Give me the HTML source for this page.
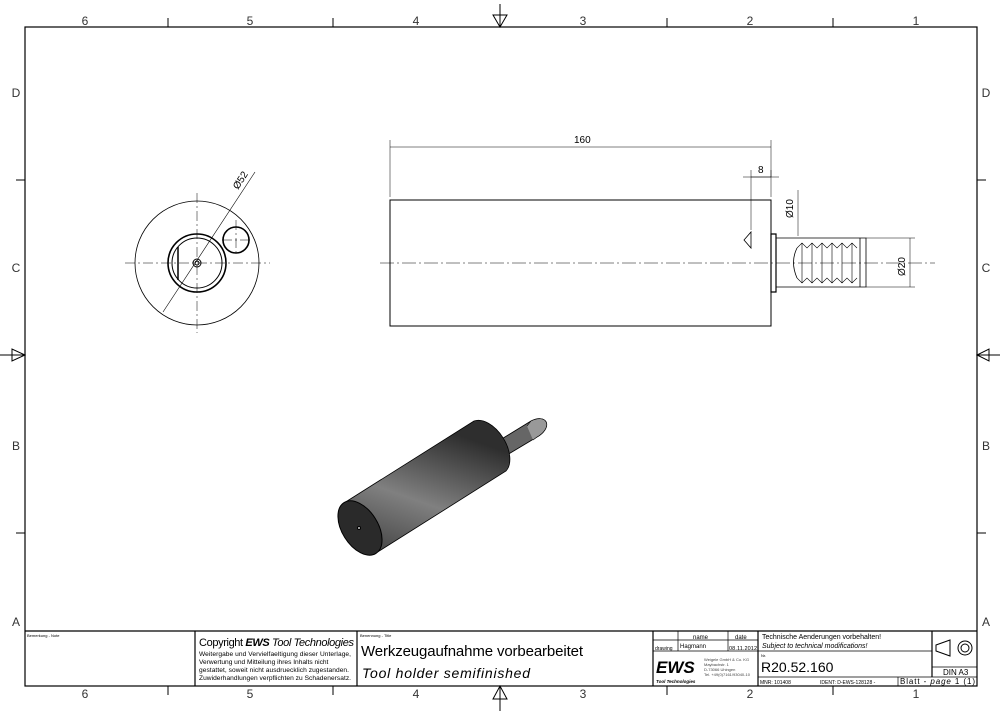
<!DOCTYPE html><html><head><style>body{margin:0;background:#fff}svg{display:block}text{font-family:"Liberation Sans",sans-serif}</style></head><body>
<svg width="1000" height="715" viewBox="0 0 1000 715" xmlns="http://www.w3.org/2000/svg">
<defs><linearGradient id="g" x1="0" y1="1" x2="0.45" y2="0"><stop offset="0" stop-color="#3a3a3a"/><stop offset="0.5" stop-color="#808080"/><stop offset="1" stop-color="#2e2e2e"/></linearGradient></defs>
<g fill="none" stroke="#000">
<rect x="25" y="27" width="952" height="659" stroke-width="1.2"/>
<g stroke-width="1">
<path d="M168 18V27M333 18V27M667 18V27M833 18V27M168 686V695M333 686V695M667 686V695M833 686V695"/>
<path d="M16 180H25M16 533H25M977 180H986M977 533H986"/>
<path d="M500 4V27M493 15H507L500 27Z M500 686V711M493 699H507L500 686Z"/>
<path d="M0 355H25M12 349V361L25 355Z M977 355H1000M989 349V361L977 355Z"/>
</g>
<!-- title block -->
<g stroke-width="1.2"><path d="M25 631H977M195 631V686M357 631V686M653 631V686M758 631V686M932 631V677"/></g>
<g stroke-width="0.7"><path d="M653 640H758M653 651H758M678 631V651M728 631V651M758 651H932M758 677H977M898 677V686M932 667H977"/></g>
<path d="M936 645L950 640V656L936 651Z M950 642V654" stroke-width="1"/>
<circle cx="965" cy="648" r="7"/><circle cx="965" cy="648" r="4"/>
<!-- end view -->
<g stroke-width="0.5" stroke-dasharray="10 3 2 3"><path d="M125 263H270M197 193V333M236 220V256M222 240H250"/></g>
<circle cx="197" cy="263" r="62" stroke-width="0.8"/>
<circle cx="197" cy="263" r="29" stroke-width="1.6"/><circle cx="197" cy="263" r="25" stroke-width="1"/>
<path d="M178 247V280" stroke-width="1.5"/>
<circle cx="197" cy="263" r="4"/><circle cx="197" cy="263" r="2"/>
<circle cx="236" cy="240" r="13" stroke-width="1.6"/>
<path d="M163 312L255 172" stroke-width="0.6"/>
<!-- side view -->
<rect x="390" y="200" width="381" height="126" stroke-width="1"/>
<path d="M380 263H935" stroke-width="0.5" stroke-dasharray="14 3 2 3"/>
<path d="M390 197V140M771 197V140M390 147H771M751 230V170M771 170V177M751 177H771M743 177H779" stroke-width="0.5"/>
<path d="M771 234H776V292H771Z" stroke-width="1.2"/>
<path d="M776 238H866V287H776Z M860 238V287M744 240L751 232V248Z" stroke-width="0.8"/>
<path d="M797 248Q790 262 797 278" stroke-width="0.8"/>
<path d="M797 248L802 243L807 248L812 243L817 248L822 243L827 248L832 243L837 248L842 243L847 248L852 243L857 248M797 278L802 283L807 278L812 283L817 278L822 283L827 278L832 283L837 278L842 283L847 278L852 283L857 278M802 243V283M812 243V283M822 243V283M832 243V283M842 243V283M852 243V283" stroke-width="0.6"/>
<path d="M866 238H915M866 287H915M910 238V287M798 190V236" stroke-width="0.5"/>
<!-- iso -->
<path d="M500 440L531 421A6 10 58 0 1 537 437L507 455Z" fill="#666" stroke="#000" stroke-width="0.8"/>
<path d="M527 426L531 421A6 10 58 0 1 537 437L533 440" fill="#999" stroke="#000" stroke-width="0.6"/>
<path d="M344 503L474 421A30 18 58 0 1 506 471L376 553A30 18 58 0 1 344 503Z" fill="url(#g)" stroke="#000" stroke-width="0.8"/>
<ellipse cx="360" cy="528" rx="30" ry="18" transform="rotate(58 360 528)" fill="#2a2a2a" stroke="#000"/>
<circle cx="359" cy="528" r="1.5" fill="#ccc"/>
</g>
<g font-size="12" fill="#333" text-anchor="middle">
<text x="85" y="25">6</text><text x="250" y="25">5</text><text x="416" y="25">4</text><text x="583" y="25">3</text><text x="750" y="25">2</text><text x="916" y="25">1</text>
<text x="85" y="698">6</text><text x="250" y="698">5</text><text x="416" y="698">4</text><text x="583" y="698">3</text><text x="750" y="698">2</text><text x="916" y="698">1</text>
<text x="16" y="97">D</text><text x="16" y="272">C</text><text x="16" y="450">B</text><text x="16" y="626">A</text>
<text x="986" y="97">D</text><text x="986" y="272">C</text><text x="986" y="450">B</text><text x="986" y="626">A</text>
</g>
<g font-size="10" fill="#000">
<text x="574" y="143">160</text><text x="758" y="173">8</text>
<text transform="translate(793,218) rotate(-90)">Ø10</text>
<text transform="translate(905,276) rotate(-90)">Ø20</text>
<text transform="translate(238,190) rotate(-57)">Ø52</text>
</g>
<g fill="#000">
<text x="27" y="637" font-size="4">Bemerkung - Note</text>
<text x="199" y="646" font-size="11" textLength="155">Copyright <tspan font-weight="bold" font-style="italic">EWS</tspan><tspan font-style="italic"> Tool Technologies</tspan></text>
<text x="199" y="656" font-size="6.6" textLength="152">Weitergabe und Vervielfaeltigung dieser Unterlage,</text>
<text x="199" y="664" font-size="6.6">Verwertung und Mitteilung ihres Inhalts nicht</text>
<text x="199" y="672" font-size="6.6" textLength="150">gestattet, soweit nicht ausdruecklich zugestanden.</text>
<text x="199" y="680" font-size="6.6" textLength="152">Zuwiderhandlungen verpflichten zu Schadenersatz.</text>
<text x="360" y="637" font-size="4">Benennung - Title</text>
<text x="361" y="656" font-size="15" font-family="DejaVu Sans" textLength="222">Werkzeugaufnahme vorbearbeitet</text>
<text x="362" y="678" font-size="14" font-family="DejaVu Sans" font-style="italic" textLength="168">Tool holder semifinished</text>
<text x="693" y="639" font-size="6">name</text><text x="735" y="639" font-size="6">date</text>
<text x="655" y="650" font-size="5">drawing</text><text x="680" y="648" font-size="6">Hagmann</text><text x="729" y="650" font-size="5.5" textLength="28">08.11.2012</text>
<text x="656" y="673" font-size="17" font-weight="bold" font-style="italic">EWS</text>
<text x="656" y="683" font-size="4.5" font-weight="bold" font-style="italic">Tool Technologies</text>
<text x="704" y="661" font-size="4" fill="#444">Weigele GmbH &amp; Co. KG</text><text x="704" y="666" font-size="4" fill="#444">Maybachstr. 1</text><text x="704" y="671" font-size="4" fill="#444">D-73066 Uhingen</text><text x="704" y="676" font-size="4" fill="#444">Tel. +49(0)7161/93040-10</text>
<text x="762" y="639" font-size="7" font-family="DejaVu Sans">Technische Aenderungen vorbehalten!</text>
<text x="762" y="648" font-size="7" font-family="DejaVu Sans" font-style="italic">Subject to technical modifications!</text>
<text x="761" y="657" font-size="4">Nr.</text>
<text x="761" y="672" font-size="14" font-family="DejaVu Sans">R20.52.160</text>
<text x="760" y="684" font-size="5">MNR: 101408</text><text x="820" y="684" font-size="5">IDENT: D-EWS-128128 -</text>
<text x="900" y="684" font-size="8" font-family="DejaVu Sans" textLength="75">Blatt - <tspan font-style="italic">page</tspan> 1 (1)</text>
<text x="943" y="675" font-size="8" font-family="DejaVu Sans">DIN A3</text>
</g>
</svg></body></html>
